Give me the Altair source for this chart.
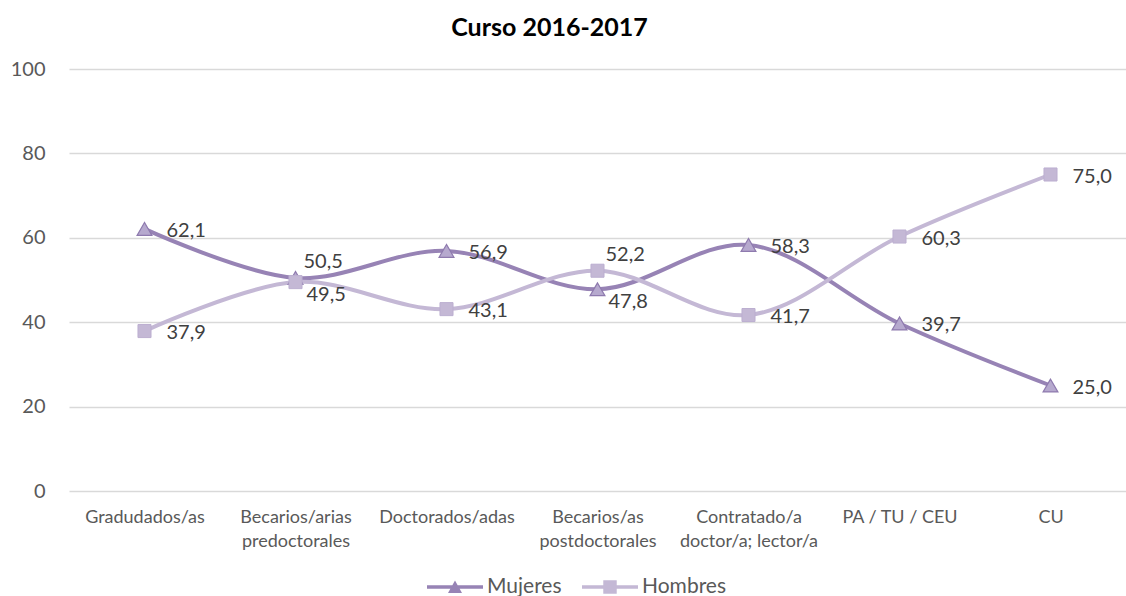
import altair as alt
import pandas as pd

# Categorías (eje X) y porcentajes por sexo
categorias = [
    "Gradudados/as",
    "Becarios/arias\npredoctorales",
    "Doctorados/adas",
    "Becarios/as\npostdoctorales",
    "Contratado/a\ndoctor/a; lector/a",
    "PA / TU / CEU",
    "CU",
]
mujeres = [62.1, 50.5, 56.9, 47.8, 58.3, 39.7, 25.0]
hombres = [37.9, 49.5, 43.1, 52.2, 41.7, 60.3, 75.0]
series = ["Mujeres", "Hombres"]

# Estilo
FONT = "Lato"
LINE_COLORS = ["#9783B5", "#C4B8D5"]
FILL_COLORS = ["#B6A9CE", "#C4B8D5"]
EDGE_COLORS = ["#8E7AAE", "#BCAFD0"]
SYM = 3136  # área del símbolo de leyenda: las rutas en [-1, 1] miden sqrt(SYM) px
# Símbolos de leyenda: trazo horizontal con el marcador en el centro
LEG_TRI = "M-1,-0.06H1V0.06H-1Z M-0.25,0.21L0,-0.23L0.25,0.21Z"
LEG_SQR = "M-1,-0.06H1V0.06H-1Z M-0.24,-0.24H0.24V0.24H-0.24Z"

rows = []
for i, c in enumerate(categorias):
    m, h = mujeres[i], hombres[i]
    close = abs(m - h) < 6
    for s, v, o in (("Mujeres", m, h), ("Hombres", h, m)):
        if close:
            pos = "arriba" if v >= o else "abajo"
        else:
            pos = "lado"
        rows.append({
            "cat": c,
            "serie": s,
            "valor": v,
            "etiqueta": f"{v:.1f}".replace(".", ","),
            "pos": pos,
        })
df = pd.DataFrame(rows)

x = alt.X(
    "cat:N",
    sort=categorias,
    title=None,
    axis=alt.Axis(
        labelAngle=0,
        labelExpr="split(datum.label, '\\n')",
        labelFont=FONT,
        labelFontSize=18,
        labelColor="#595959",
        labelPadding=17,
        labelLineHeight=24,
        labelBaseline="top",
        domain=False,
        ticks=False,
        grid=False,
    ),
)
y = alt.Y(
    "valor:Q",
    title=None,
    scale=alt.Scale(domain=[0, 100], nice=False),
    axis=alt.Axis(
        values=[0, 20, 40, 60, 80, 100],
        labelFont=FONT,
        labelFontSize=20,
        labelColor="#595959",
        labelPadding=24,
        domain=False,
        ticks=False,
        gridColor="#D9D9D9",
        gridWidth=1.3,
    ),
)

legend = alt.Legend(
    orient="none",
    legendX=358,
    legendY=490,
    direction="horizontal",
    title=None,
    symbolSize=SYM,
    symbolOpacity=1,
    symbolStrokeWidth=0,
    labelFont=FONT,
    labelFontSize=21,
    labelColor="#595959",
    labelOffset=4,
    columnPadding=20,
    padding=0,
)

color_scale = alt.Scale(domain=series, range=LINE_COLORS)

base = alt.Chart(df).encode(x=x, y=y)

lines = base.mark_line(strokeWidth=4, interpolate="catmull-rom").encode(
    color=alt.Color("serie:N", scale=color_scale, legend=legend),
    detail="serie:N",
)

# Capa invisible que aporta la leyenda combinada (color + forma)
legend_layer = base.mark_point(filled=True, opacity=0, size=10).encode(
    color=alt.Color("serie:N", scale=color_scale, legend=legend),
    shape=alt.Shape("serie:N", scale=alt.Scale(domain=series, range=[LEG_TRI, LEG_SQR]), legend=legend),
)

tri = base.mark_point(
    shape="triangle-up", filled=True, opacity=1, size=220,
    fill=FILL_COLORS[0], stroke=EDGE_COLORS[0], strokeWidth=1.2,
).transform_filter(alt.datum.serie == "Mujeres")

sqr = base.mark_point(
    shape="square", filled=True, opacity=1, size=170,
    fill=FILL_COLORS[1], stroke=EDGE_COLORS[1], strokeWidth=1,
).transform_filter(alt.datum.serie == "Hombres")

text_style = dict(font=FONT, fontSize=20, color="#404040", align="left", baseline="middle")
lab_side = base.mark_text(dx=22, dy=2, **text_style).encode(text="etiqueta:N").transform_filter(
    alt.datum.pos == "lado"
)
lab_up = base.mark_text(dx=8, dy=-16, **text_style).encode(text="etiqueta:N").transform_filter(
    alt.datum.pos == "arriba"
)
lab_down = base.mark_text(dx=11, dy=13, **text_style).encode(text="etiqueta:N").transform_filter(
    alt.datum.pos == "abajo"
)

chart = (
    alt.layer(lines, legend_layer, tri, sqr, lab_side, lab_up, lab_down)
    .properties(
        width=1057,
        height=422,
        title=alt.TitleParams(
            "Curso 2016-2017",
            font=FONT,
            fontSize=25,
            fontWeight="bold",
            color="#000000",
            anchor="middle",
            dx=-48,
            offset=18,
        ),
        autosize=alt.AutoSizeParams(type="none"),
        padding={"left": 69, "top": 69, "right": 0, "bottom": 105},
    )
    .configure_view(stroke=None)
)

chart.save("out.html", embed_options={"renderer": "svg", "actions": False})
